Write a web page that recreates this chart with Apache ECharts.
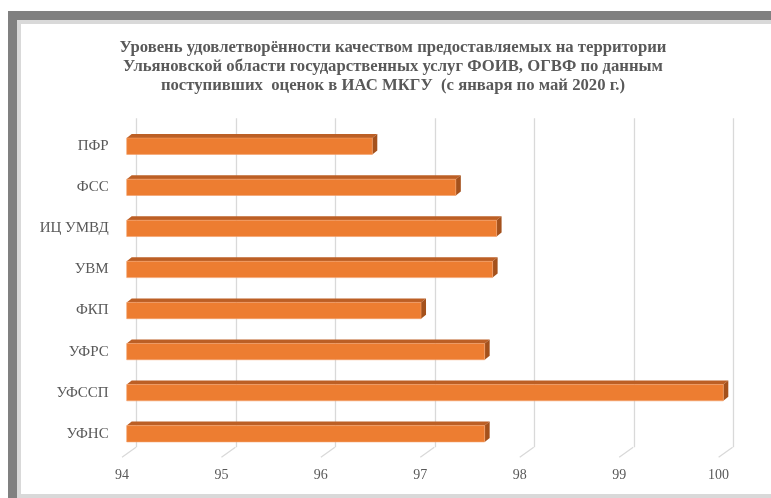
<!DOCTYPE html>
<html>
<head>
<meta charset="utf-8">
<script src="https://cdn.jsdelivr.net/npm/echarts@6/dist/echarts.min.js"></script>
<style>
html,body{margin:0;padding:0;background:#fff;}
#c{width:771px;height:498px;}
</style>
</head>
<body>
<div id="c"></div>
<script>
var titleText = 'Уровень удовлетворённости качеством предоставляемых на территории\nУльяновской области государственных услуг ФОИВ, ОГВФ по данным\nпоступивших  оценок в ИАС МКГУ  (с января по май 2020 г.)';
var categories = ['ПФР', 'ФСС', 'ИЦ УМВД', 'УВМ', 'ФКП', 'УФРС', 'УФССП', 'УФНС'];
var values = [96.47, 97.31, 97.72, 97.68, 96.96, 97.60, 100.0, 97.60];
var axisMin = 94, axisMax = 100, axisStep = 1;
var tickValues = [94, 95, 96, 97, 98, 99, 100];

var FONT = '"Liberation Serif","Times New Roman",serif';
var TEXT = '#595959';
var GRID = '#d9d9d9';
var DX = 5, DY = 4;

var chart = echarts.init(document.getElementById('c'), null, {renderer: 'canvas'});

function renderBar(params, api) {
  var idx = api.value(0);
  var v = api.value(1);
  var p0 = api.coord([axisMin, idx]);
  var p1 = api.coord([v, idx]);
  var band = api.size([0, 1])[1];
  var h = band * 0.397;
  var x0 = p0[0], x1 = p1[0];
  var yT = p0[1] - h / 2, yB = p0[1] + h / 2;
  return {
    type: 'group',
    children: [
      {type: 'polygon', shape: {points: [[x0, yT], [x0 + DX, yT - DY], [x1 + DX, yT - DY], [x1, yT]]},
       style: {fill: '#bc5f25'}},
      {type: 'polygon', shape: {points: [[x1, yT], [x1 + DX, yT - DY], [x1 + DX, yB - DY], [x1, yB]]},
       style: {fill: '#a4511c'}},
      {type: 'rect', shape: {x: x0, y: yT, width: x1 - x0, height: h},
       style: {fill: '#ed7d31', stroke: '#f3a06a', lineWidth: 0.6}}
    ]
  };
}

function renderFloor(params, api) {
  var t = api.value(0);
  var p = api.coord([t, 0]);
  return {
    type: 'line',
    shape: {x1: p[0], y1: p[1], x2: p[0] + 14, y2: p[1] - 10},
    style: {stroke: GRID, lineWidth: 1.3}
  };
}

var option = {
  backgroundColor: '#ffffff',
  animation: false,
  title: {
    text: titleText,
    left: 388,
    textAlign: 'center',
    top: 33,
    textStyle: {fontFamily: FONT, fontSize: 16.7, fontWeight: 'bold', color: TEXT, lineHeight: 19}
  },
  graphic: [
    {type: 'rect', shape: {x: 8, y: 11, width: 763, height: 9}, style: {fill: '#808080'}, z: 100},
    {type: 'rect', shape: {x: 8, y: 11, width: 9, height: 487}, style: {fill: '#808080'}, z: 100},
    {type: 'rect', shape: {x: 17, y: 20, width: 754, height: 4}, style: {fill: '#d9d9d9'}, z: 100},
    {type: 'rect', shape: {x: 17, y: 20, width: 4, height: 478}, style: {fill: '#d9d9d9'}, z: 100},
    {type: 'rect', shape: {x: 17, y: 494, width: 754, height: 4}, style: {fill: '#d9d9d9'}, z: 100}
  ],
  grid: [
    {left: 126.7, width: 596.6, top: 125.7, height: 328.6, containLabel: false},
    {left: 136.7, width: 596.6, top: 118.3, height: 329, containLabel: false},
    {left: 122, width: 596.6, top: 118.3, height: 339, containLabel: false}
  ],
  xAxis: [
    {gridIndex: 0, type: 'value', min: axisMin, max: axisMax, interval: axisStep,
     axisLabel: {show: false}, axisLine: {show: false}, axisTick: {show: false}, splitLine: {show: false}},
    {gridIndex: 1, type: 'value', min: axisMin, max: axisMax, interval: axisStep,
     axisLabel: {show: false}, axisLine: {show: false}, axisTick: {show: false},
     splitLine: {show: true, lineStyle: {color: GRID, width: 1.3}}},
    {gridIndex: 2, type: 'value', min: axisMin, max: axisMax, interval: axisStep,
     axisLine: {show: false}, axisTick: {show: false}, splitLine: {show: false},
     axisLabel: {show: true, margin: 11, fontFamily: FONT, fontSize: 14, color: TEXT}}
  ],
  yAxis: [
    {gridIndex: 0, type: 'category', data: categories, inverse: true,
     axisLine: {show: false}, axisTick: {show: false}, splitLine: {show: false},
     axisLabel: {margin: 18, fontFamily: FONT, fontSize: 15, color: TEXT}},
    {gridIndex: 1, type: 'value', min: 0, max: 1, show: false, splitLine: {show: false}},
    {gridIndex: 2, type: 'value', min: 0, max: 1, show: false, splitLine: {show: false}}
  ],
  series: [
    {type: 'custom', xAxisIndex: 2, yAxisIndex: 2, renderItem: renderFloor,
     data: tickValues.map(function (t) { return [t]; }), encode: {x: 0}, z: 1, silent: true},
    {type: 'custom', xAxisIndex: 0, yAxisIndex: 0, renderItem: renderBar,
     data: values.map(function (v, i) { return [i, v]; }), encode: {y: 0, x: 1}, z: 5}
  ]
};
chart.setOption(option);
</script>
</body>
</html>
